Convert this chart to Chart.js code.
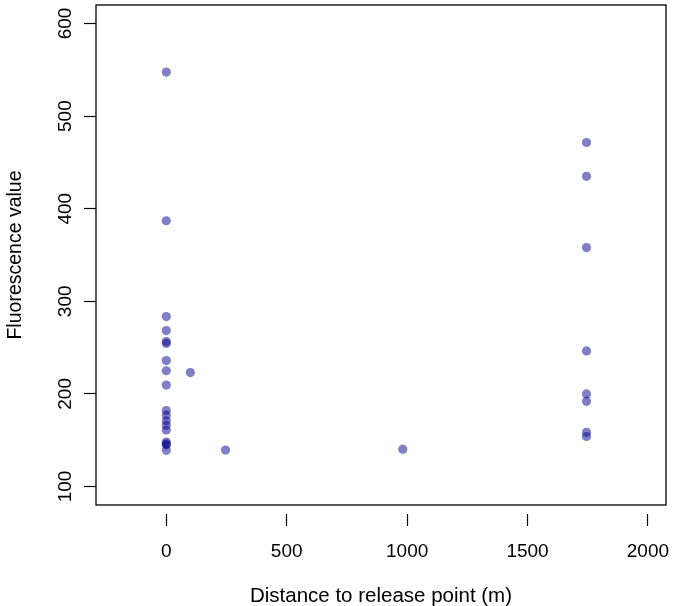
<!DOCTYPE html>
<html>
<head>
<meta charset="utf-8">
<script src="https://cdn.jsdelivr.net/npm/chart.js@4/dist/chart.umd.min.js"></script>
<style>
  html, body { margin: 0; padding: 0; background: #ffffff; }
  #wrap { width: 674px; height: 606px; }
</style>
</head>
<body>
<div id="wrap"><canvas id="c" width="674" height="606"></canvas></div>
<script>
// Data
const distances = [0, 0, 0, 0, 0, 0, 0, 0, 0, 0, 0, 0, 0, 0, 0, 0, 0, 0,
                   100, 246, 982,
                   1745, 1745, 1745, 1745, 1745, 1745, 1745, 1745];
const fluorescence = [547.6, 387, 283.5, 268.4, 256.5, 254.5, 236, 225, 209.5, 182, 177, 171, 166, 161, 148, 146, 145, 139,
                      223, 139.3, 140.3,
                      471.5, 435, 358, 246.4, 200, 192, 158.5, 154];
const xTicks = [0, 500, 1000, 1500, 2000];
const yTicks = [100, 200, 300, 400, 500, 600];
const xLabel = 'Distance to release point (m)';
const yLabel = 'Fluorescence value';

const points = distances.map((d, i) => ({ x: d, y: fluorescence[i] }));
const FONT = 'Liberation Sans, Arial, Helvetica, sans-serif';

const boxPlugin = {
  id: 'box',
  afterDraw(chart) {
    const a = chart.chartArea, ctx = chart.ctx;
    ctx.save();
    ctx.strokeStyle = '#000';
    ctx.lineWidth = 1.3;
    ctx.strokeRect(a.left, a.top, a.right - a.left, a.bottom - a.top);
    ctx.restore();
  }
};

new Chart(document.getElementById('c'), {
  type: 'scatter',
  data: {
    datasets: [{
      data: points,
      backgroundColor: 'rgba(0,0,139,0.5)',
      borderWidth: 0,
      pointRadius: 4.6,
      pointHoverRadius: 4.6
    }]
  },
  options: {
    responsive: false,
    animation: false,
    events: [],
    layout: { padding: { top: 5, right: 8, left: 0, bottom: 0 } },
    plugins: { legend: { display: false }, tooltip: { enabled: false } },
    scales: {
      x: {
        type: 'linear',
        min: -292, max: 2075,
        afterBuildTicks: s => { s.ticks = xTicks.map(v => ({ value: v })); },
        afterFit: s => { s.height = 101; s.paddingLeft = 0; s.paddingRight = 0; },
        border: { display: false },
        grid: {
          display: true, drawOnChartArea: false, drawTicks: true,
          tickLength: 21, tickColor: '#000', tickWidth: 1.2,
          tickBorderDash: [0, 9, 12, 100]
        },
        ticks: { color: '#000', font: { family: FONT, size: 19 }, padding: 14, maxRotation: 0, minRotation: 0,
                 callback: v => String(v) },
        title: { display: true, text: xLabel, color: '#000', font: { family: FONT, size: 20.5, lineHeight: 0.9 }, padding: { top: 0, bottom: 0 } }
      },
      y: {
        type: 'linear',
        min: 80, max: 620,
        afterBuildTicks: s => { s.ticks = yTicks.map(v => ({ value: v })); },
        afterFit: s => { s.width = 96; s.paddingTop = 0; s.paddingBottom = 0; },
        border: { display: false },
        grid: {
          display: true, drawOnChartArea: false, drawTicks: true,
          tickLength: 12, tickColor: '#000', tickWidth: 1.2
        },
        ticks: { color: '#000', font: { family: FONT, size: 19 }, padding: 2, minRotation: 90, maxRotation: 90, crossAlign: 'center',
                 callback: v => String(v) },
        title: { display: true, text: yLabel, color: '#000', font: { family: FONT, size: 19.5 }, padding: { top: 4, bottom: 0 } }
      }
    }
  },
  plugins: [boxPlugin]
});
</script>
</body>
</html>
